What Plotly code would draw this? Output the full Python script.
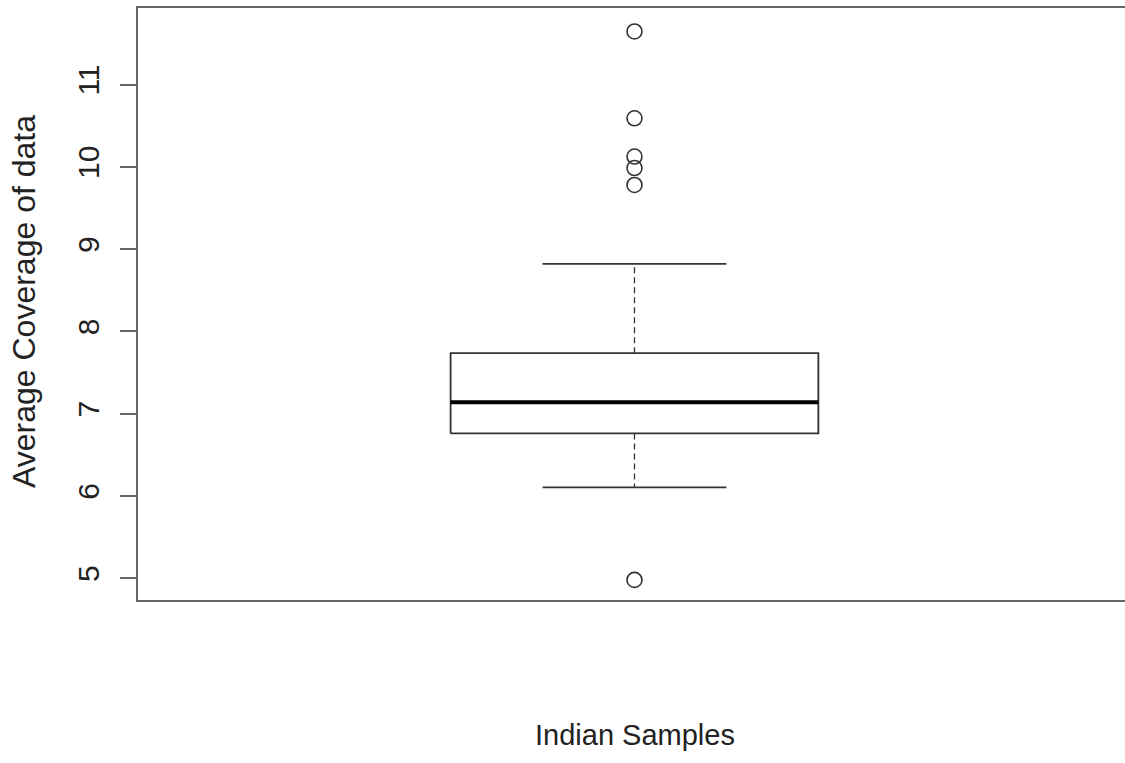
import plotly.graph_objects as go

# ---- data ----
category = "Indian Samples"
q1 = [6.76]
median = [7.14]
q3 = [7.735]
lower_whisker = [6.105]
upper_whisker = [8.82]
outliers = [11.645, 10.59, 10.125, 9.985, 9.78, 4.98]
y_ticks = [5, 6, 7, 8, 9, 10, 11]
y_title = "Average Coverage of data"

# ---- style ----
pos = 1.0
half_box = 0.2
half_cap = 0.1
line_col = "#333333"
axis_col = "#666666"
text_col = "#222222"

fig = go.Figure()

# whiskers (dashed)
fig.add_trace(go.Scatter(
    x=[pos, pos, None, pos, pos],
    y=[q3[0], upper_whisker[0], None, q1[0], lower_whisker[0]],
    mode="lines", line=dict(color=line_col, width=1.3, dash="6px,4px"),
    hoverinfo="skip", showlegend=False))

# whisker caps
fig.add_trace(go.Scatter(
    x=[pos - half_cap, pos + half_cap, None, pos - half_cap, pos + half_cap],
    y=[upper_whisker[0], upper_whisker[0], None, lower_whisker[0], lower_whisker[0]],
    mode="lines", line=dict(color=line_col, width=1.8),
    hoverinfo="skip", showlegend=False))

# box
fig.add_trace(go.Scatter(
    x=[pos - half_box, pos + half_box, pos + half_box, pos - half_box, pos - half_box],
    y=[q1[0], q1[0], q3[0], q3[0], q1[0]],
    mode="lines", line=dict(color=line_col, width=1.8),
    hoverinfo="skip", showlegend=False))

# median
fig.add_trace(go.Scatter(
    x=[pos - half_box, pos + half_box],
    y=[median[0], median[0]],
    mode="lines", line=dict(color="#000000", width=4),
    hoverinfo="skip", showlegend=False))

# outliers
fig.add_trace(go.Scatter(
    x=[pos] * len(outliers), y=outliers,
    mode="markers",
    marker=dict(symbol="circle-open", size=15, color=line_col, line=dict(width=1.6, color=line_col)),
    hoverinfo="skip", showlegend=False))

ml, mt, mb = 138, 8, 163
W, H = 1125, 763
pw = W - ml
ph = H - mt - mb

fig.update_layout(
    width=W, height=H,
    margin=dict(l=ml, r=0, t=mt, b=mb, pad=0),
    paper_bgcolor="white", plot_bgcolor="white",
    showlegend=False,
    xaxis=dict(range=[0.46, 1.5335], showline=True, linecolor=axis_col, linewidth=2,
               mirror=True, showticklabels=False, ticks="", showgrid=False, zeroline=False),
    yaxis=dict(range=[4.736, 11.93], showline=True, linecolor=axis_col, linewidth=2,
               mirror=False, tickmode="array", tickvals=y_ticks,
               ticktext=[str(v) for v in y_ticks],
               ticks="outside", ticklen=16, tickwidth=2, tickcolor=axis_col,
               tickangle=-90, ticklabelstandoff=9,
               tickfont=dict(family="Liberation Sans, Arial, sans-serif", size=30, color=text_col),
               showgrid=False, zeroline=False),
    annotations=[
        dict(text=y_title, xref="paper", yref="paper",
             x=(24 - ml) / pw, y=(600 - 302) / ph, xanchor="center", yanchor="middle",
             textangle=-90, showarrow=False,
             font=dict(family="Liberation Sans, Arial, sans-serif", size=32, color=text_col)),
        dict(text=category, xref="paper", yref="paper",
             x=(635 - ml) / pw, y=(600 - 735) / ph, xanchor="center", yanchor="middle",
             showarrow=False,
             font=dict(family="Liberation Sans, Arial, sans-serif", size=29, color=text_col)),
    ],
)

fig.write_html("out.html", config={"displayModeBar": False})
